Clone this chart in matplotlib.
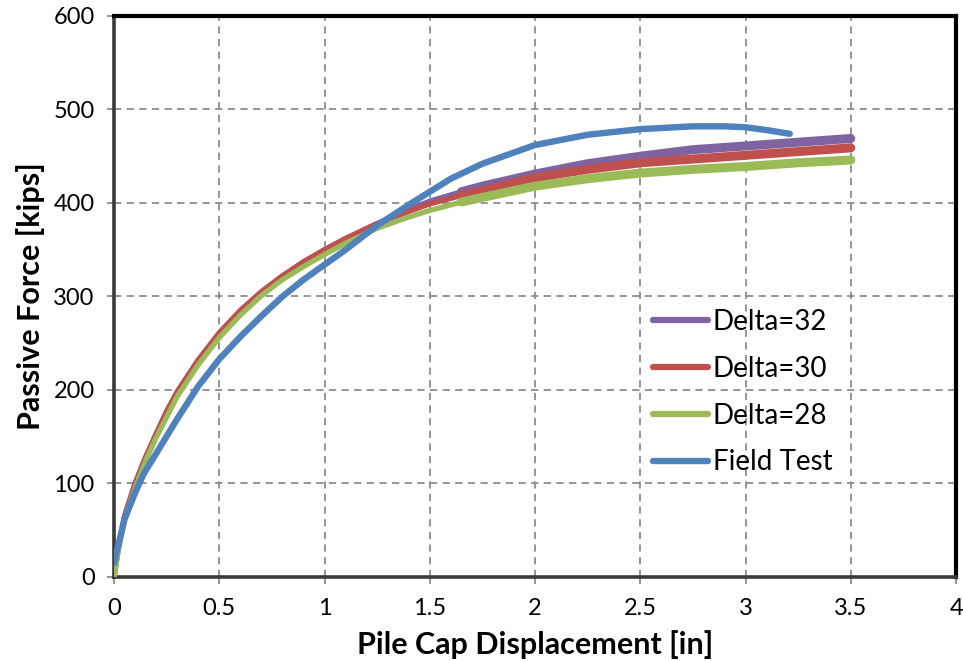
import matplotlib
matplotlib.use("Agg")
import matplotlib.pyplot as plt
import numpy as np

# Model results: passive force vs pile cap displacement for three wall friction angles
disp_model = [0, 0.02, 0.05, 0.1, 0.15, 0.2, 0.25, 0.3, 0.4, 0.5, 0.6, 0.7, 0.8,
              0.9, 1.0, 1.1, 1.25, 1.4, 1.5, 1.65, 1.75, 2.0, 2.25, 2.5, 2.75,
              3.0, 3.25, 3.5]
delta32 = [0, 30, 65, 100, 128, 153, 177, 198, 232, 261, 285, 305, 322,
           337, 350, 362, 378, 393, 402, 412, 418, 431, 442, 450, 457,
           461, 465, 469]
delta30 = [0, 30, 65, 100, 128, 153, 177, 198, 232, 261, 285, 305, 322,
           337, 350, 362, 378, 391, 399, 408, 413, 427, 436, 443, 447,
           451, 455, 459]
delta28 = [0, 28, 61, 95, 124, 149, 171, 193, 227, 256, 280, 301, 318,
           332, 345, 357, 373, 385, 392, 401, 406, 418, 426, 432, 436,
           439, 443, 446]

# Field test measurements
disp_field = [0, 0.05, 0.1, 0.14, 0.2, 0.3, 0.4, 0.5, 0.6, 0.7, 0.8, 0.9,
              1.0, 1.1, 1.25, 1.4, 1.5, 1.6, 1.75, 2.0, 2.25, 2.5, 2.75,
              2.9, 3.0, 3.1, 3.21]
force_field = [15, 62, 90, 110, 132, 169, 204, 233, 257, 279, 300, 318,
               334, 350, 376, 398, 412, 426, 442, 462, 473, 479, 482,
               482, 481, 478, 474]

labels = ["Delta=32", "Delta=30", "Delta=28", "Field Test"]
colors = ["#8064A2", "#C0504D", "#9BBB59", "#4F81BD"]

xticks = [0, 0.5, 1, 1.5, 2, 2.5, 3, 3.5, 4]
xtick_labels = ["0", "0.5", "1", "1.5", "2", "2.5", "3", "3.5", "4"]
yticks = [0, 100, 200, 300, 400, 500, 600]

plt.rcParams["font.family"] = ["Lato", "DejaVu Sans"]

fig = plt.figure(figsize=(9.63, 6.61), dpi=100)
ax = fig.add_axes([0.1184, 0.1271, 0.8744, 0.8487])

dm = np.array(disp_model)
split = int(np.searchsorted(dm, 1.65))
for vals, col, lab in zip([delta32, delta30, delta28], colors[:3], labels[:3]):
    v = np.array(vals)
    # smoother early part, thicker scattered-looking band at larger displacement
    ax.plot(dm[:split + 1], v[:split + 1], color=col, lw=3.8,
            solid_capstyle="round", solid_joinstyle="round", zorder=3)
    ax.plot(dm[split:], v[split:], color=col, lw=6.5,
            solid_capstyle="round", solid_joinstyle="round", zorder=3)
    ax.plot([], [], color=col, lw=4.5, solid_capstyle="round", label=lab)

ax.plot(disp_field, force_field, color=colors[3], lw=4.6,
        solid_capstyle="round", solid_joinstyle="round", zorder=4,
        label=labels[3])

ax.set_xlim(0, 4)
ax.set_ylim(0, 600)
ax.set_xticks(xticks)
ax.set_xticklabels(xtick_labels)
ax.set_yticks(yticks)
ax.tick_params(axis="both", labelsize=17, direction="out", length=5,
               width=1.2, color="#808080")
ax.tick_params(axis="y", pad=9)
ax.tick_params(axis="x", pad=10)

ax.grid(True, color="#8c8c8c", linestyle=(0, (4, 3)), linewidth=1.3)
ax.set_axisbelow(True)

for side in ["top", "right"]:
    ax.spines[side].set_color("black")
    ax.spines[side].set_linewidth(3)
for side in ["left", "bottom"]:
    ax.spines[side].set_color("#3a3a3a")
    ax.spines[side].set_linewidth(2.6)

ax.set_xlabel("Pile Cap Displacement [in]", fontsize=22, fontweight="bold",
              labelpad=8)
ax.set_ylabel("Passive Force [kips]", fontsize=22, fontweight="bold",
              labelpad=6)

leg = ax.legend(loc="upper left", bbox_to_anchor=(0.640, 0.478), frameon=False,
                fontsize=20, handlelength=2.0, handletextpad=0.15,
                labelspacing=0.75, borderpad=0, borderaxespad=0)

fig.savefig("out.png", dpi=100)
